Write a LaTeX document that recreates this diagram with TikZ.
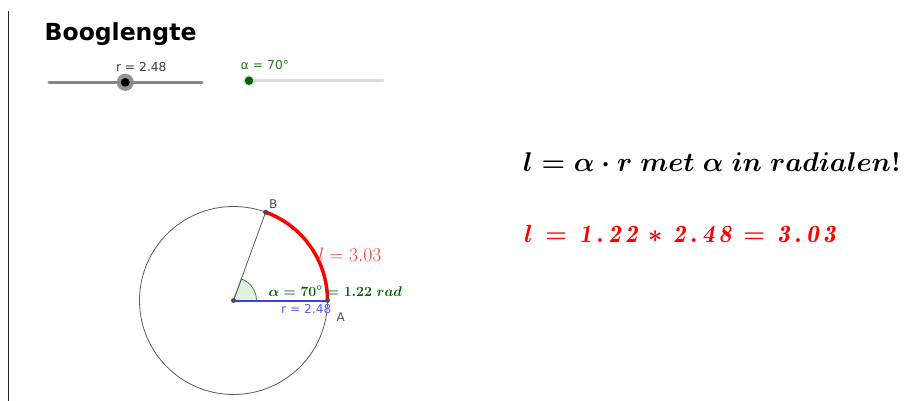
\documentclass[tikz,border=0pt]{standalone}
\usepackage{fontspec}
\newfontfamily\ggb{DejaVu Sans}
\definecolor{ptgray}{RGB}{77,77,77}
\definecolor{circgray}{RGB}{90,90,90}
\definecolor{slgray}{RGB}{135,135,135}
\definecolor{ggred}{RGB}{255,0,0}
\definecolor{lblred}{RGB}{255,60,60}
\definecolor{ggblue}{RGB}{60,60,235}
\definecolor{lblblue}{RGB}{90,90,255}
\definecolor{ggdkgreen}{RGB}{0,100,0}
\definecolor{ggtxtgreen}{RGB}{40,120,40}
\definecolor{sectgreen}{RGB}{60,140,60}
\definecolor{sectfill}{RGB}{225,240,225}
\definecolor{sllight}{RGB}{205,228,205}
\definecolor{lbltxt}{RGB}{60,60,60}
\newcommand{\lsp}{\mkern2.7mu}
\begin{document}
\begin{tikzpicture}[x=1pt,y=-1pt,
  sanslbl/.style={inner sep=0pt, font=\ggb\fontsize{12.3}{14}\selectfont},
  ptlbl/.style={inner sep=0pt, text=ptgray, font=\ggb\fontsize{12}{14}\selectfont},
  gpoint/.style={circle, fill=ptgray, inner sep=0pt, minimum size=5pt},
  bigmath/.style={inner sep=0pt, anchor=base west, font=\fontsize{24.88}{30}\selectfont\boldmath}
]
\useasboundingbox (0,0) rectangle (908,401);
% left border line
\coordinate (vt) at (8.3,11);
\coordinate (vb) at (8.3,401);
\draw[line width=0.9pt, black!85] (vt) -- (vb);
% title
\node[inner sep=0pt, anchor=base west, font=\ggb\bfseries\fontsize{23.5}{26}\selectfont] (title) at (44.5,40.5) {Booglengte};
% slider r
\coordinate (rs1) at (49,82.3);
\coordinate (rs2) at (202,82.3);
\draw[line width=3pt, slgray, line cap=round] (rs1) -- (rs2);
\fill[slgray, opacity=0.9] (125.3,82.3) circle (8.6);
\fill[black] (125.3,82.3) circle (4.4);
\node[sanslbl, anchor=base, text=lbltxt] (rlab) at (141.3,71.7) {r = 2.48};
% slider alpha
\coordinate (as1) at (249,80.7);
\coordinate (as2) at (383,80.7);
\draw[line width=3pt, sllight, line cap=round] (as1) -- (as2);
\fill[sllight] (249,80.7) circle (5.6);
\fill[ggdkgreen] (249,80.7) circle (4.2);
\node[sanslbl, anchor=base, text=ggtxtgreen] (alab) at (265,69.3) {α = 70°};
% geometry
\coordinate (O) at (233.5,300.5);
\coordinate (A) at (327.5,300.5);
\coordinate (B) at (265.65,212.17);
\draw[line width=0.8pt, circgray] (O) circle (94);
\filldraw[fill=sectfill, draw=sectgreen, line width=0.8pt] (O) -- ++(23,0) arc[start angle=0, end angle=-70, radius=23] -- cycle;
\draw[line width=0.8pt, circgray] (O) -- (B);
\draw[line width=2pt, ggblue] (O) -- (A);
\draw[line width=3.5pt, ggred] (A) arc[start angle=0, end angle=-70, radius=94];
\node[gpoint] (pO) at (O) {};
\node[gpoint] (pA) at (A) {};
\node[gpoint] (pB) at (B) {};
\node[ptlbl, anchor=base west] (lB) at (269,208.3) {B};
\node[ptlbl, anchor=base west] (lA) at (336.5,321.7) {A};
\node[inner sep=0pt, anchor=base west, text=lblblue, font=\ggb\fontsize{12.2}{14}\selectfont] (lr) at (281,313.3) {r = 2.48};
\node[inner sep=0pt, anchor=base west, text=lblred, font=\fontsize{20.74}{24}\selectfont] (ll) at (318,261.7) {\scalebox{0.94}{$l = 3.03$}};
\node[inner sep=0pt, anchor=base west, text=ggdkgreen, font=\fontsize{14.4}{17}\selectfont\boldmath] (lang) at (268.3,296) {\scalebox{0.978}{$\alpha = 70^\circ = 1.22\ rad$}};
% formulas
\node[bigmath] (f1) at (523,171.5) {\scalebox{1.09}{$l = \alpha\cdot r\ met\ \alpha\ in\ radialen!$}};
\node[bigmath, text=ggred] (f2) at (524,242) {$l\lsp=\lsp\mathit{1}\lsp\mathit{.}\lsp\mathit{2}\lsp\mathit{2}\lsp*\lsp\mathit{2}\lsp\mathit{.}\lsp\mathit{4}\lsp\mathit{8}\lsp=\lsp\mathit{3}\lsp\mathit{.}\lsp\mathit{0}\lsp\mathit{3}$};
\end{tikzpicture}
\end{document}
